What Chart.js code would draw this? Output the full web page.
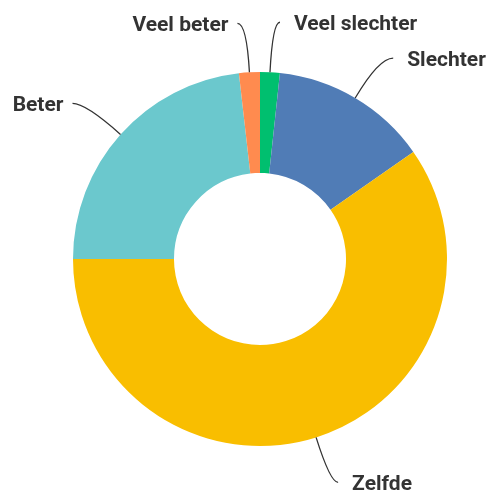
<!DOCTYPE html>
<html>
<head>
<meta charset="utf-8">
<script src="https://cdn.jsdelivr.net/npm/chart.js@4/dist/chart.umd.min.js"></script>
<style>
html,body{margin:0;padding:0;background:#fff;}
#wrap{width:490px;height:493px;position:relative;}
</style>
</head>
<body>
<div id="wrap"><canvas id="c" width="490" height="493"></canvas></div>
<script>
const categories = ["Veel slechter", "Slechter", "Zelfde", "Beter", "Veel beter"];
const percentages = [1.7, 13.6, 59.7, 23.2, 1.8];
const sliceColors = ["#00BF6F", "#507CB6", "#F9BE00", "#6BC8CD", "#FF8B4F"];

// leader line end offsets (from slice edge midpoint) and label side
const leaderOffsets = [[10, -50], [38, -40], [22, 45], [-48, -31], [-12, -49]];

const leaderPlugin = {
  id: 'leaders',
  afterDatasetsDraw(chart) {
    const ctx = chart.ctx;
    const meta = chart.getDatasetMeta(0);
    ctx.save();
    meta.data.forEach((arc, i) => {
      const p = arc.getProps(['x','y','startAngle','endAngle','outerRadius'], true);
      const mid = (p.startAngle + p.endAngle) / 2;
      const dx = Math.cos(mid), dy = Math.sin(mid);
      const sx = p.x + dx * p.outerRadius, sy = p.y + dy * p.outerRadius;
      const ex = sx + leaderOffsets[i][0], ey = sy + leaderOffsets[i][1];
      const t = (ey - sy) / dy;
      let cx = sx + dx * t;
      const cy = ey;
      ctx.beginPath();
      ctx.moveTo(sx, sy);
      ctx.quadraticCurveTo(cx, cy, ex, ey);
      ctx.strokeStyle = '#333333';
      ctx.lineWidth = 1.3;
      ctx.stroke();
      ctx.font = 'bold 21px Roboto';
      ctx.fillStyle = '#333333';
      ctx.textBaseline = 'alphabetic';
      if (leaderOffsets[i][0] >= 0) {
        ctx.textAlign = 'left';
        ctx.fillText(categories[i], ex + 14, ey + 8);
      } else {
        ctx.textAlign = 'right';
        ctx.fillText(categories[i], ex - 9, ey + 8);
      }
    });
    ctx.restore();
  }
};

new Chart(document.getElementById('c'), {
  type: 'doughnut',
  data: {
    labels: categories,
    datasets: [{
      data: percentages,
      backgroundColor: sliceColors,
      borderWidth: 0,
      hoverOffset: 0
    }]
  },
  options: {
    responsive: false,
    animation: false,
    cutout: '46%',
    layout: { padding: { left: 73, right: 43, top: 72, bottom: 47 } },
    plugins: { legend: { display: false }, tooltip: { enabled: false } }
  },
  plugins: [leaderPlugin]
});
</script>
</body>
</html>
